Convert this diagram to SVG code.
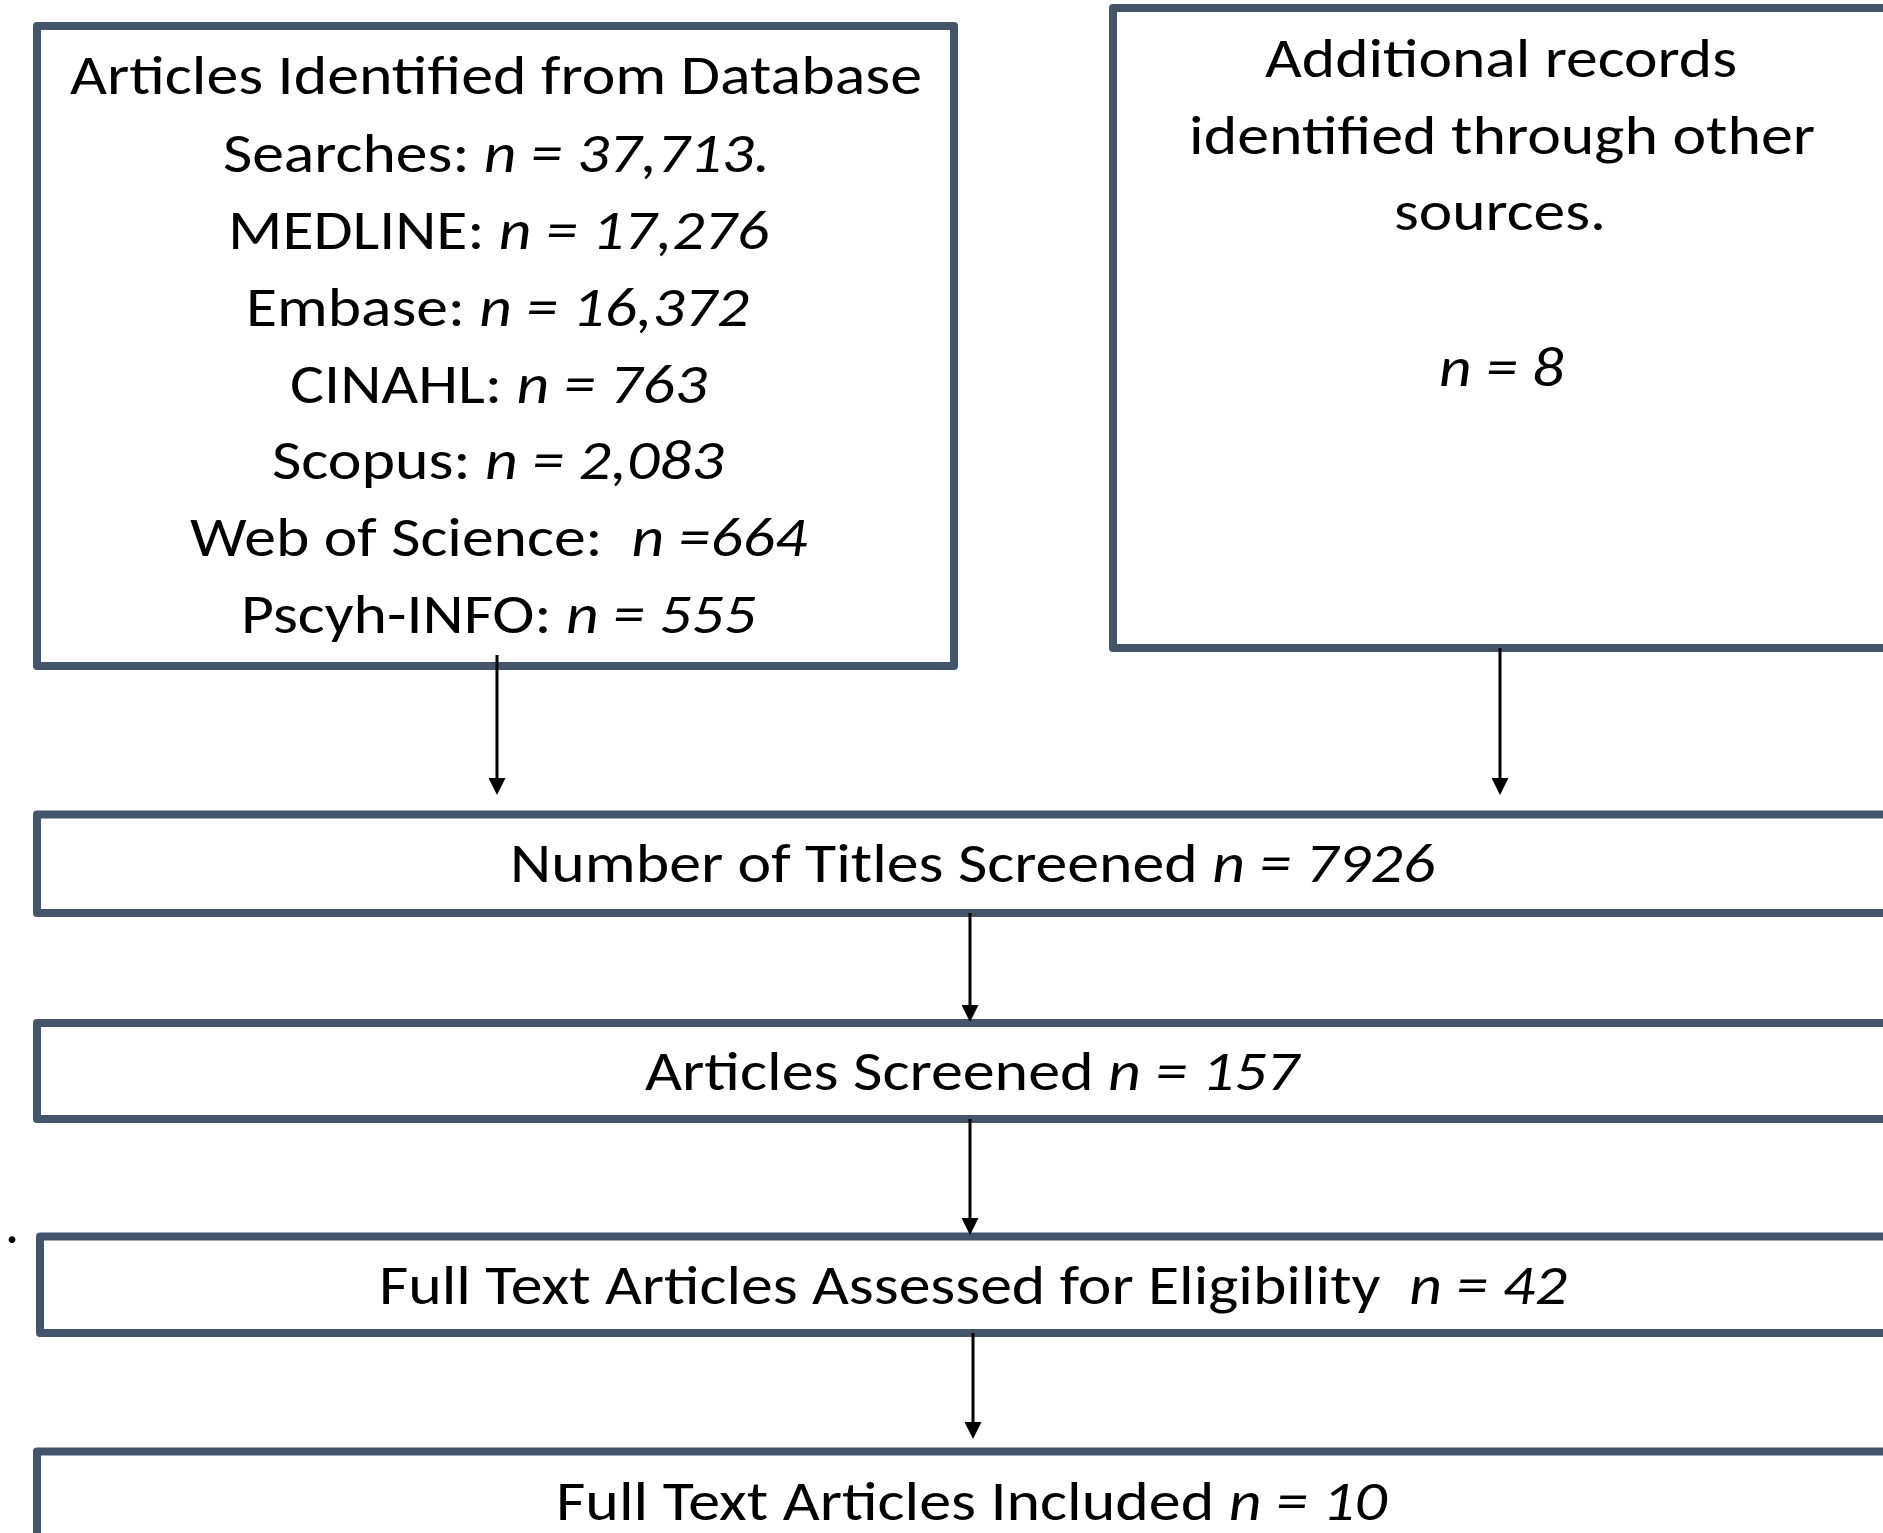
<svg xmlns="http://www.w3.org/2000/svg" width="1883" height="1533" viewBox="0 0 1883 1533">
<style>
.box{fill:#ffffff;stroke:#44546A;stroke-width:8;stroke-linejoin:round}
.t{font-family:Carlito,Calibri,Lato,"Open Sans",sans-serif;font-size:56px;fill:#000000;white-space:pre}
.i{font-style:italic}
.c{stroke:#000000;stroke-width:3;fill:none}
</style>
<defs>
<marker id="ah" markerUnits="userSpaceOnUse" markerWidth="17" markerHeight="17" refX="5" refY="8.5" orient="auto">
<path d="M0,0 L17,8.5 L0,17 z" fill="#000000"/>
</marker>
</defs>
<rect width="1883" height="1533" fill="#ffffff"/>
<g id="db">
<rect class="box" x="37" y="26" width="917" height="640"/>
<text class="t" x="70" y="94" textLength="852" lengthAdjust="spacingAndGlyphs">Articles Identified from Database</text>
<text class="t" x="223" y="172" textLength="547" lengthAdjust="spacingAndGlyphs">Searches: <tspan class="i">n = 37,713.</tspan></text>
<text class="t" x="228" y="249" textLength="541" lengthAdjust="spacingAndGlyphs">MEDLINE: <tspan class="i">n = 17,276</tspan></text>
<text class="t" x="246" y="326" textLength="503" lengthAdjust="spacingAndGlyphs">Embase: <tspan class="i">n = 16,372</tspan></text>
<text class="t" x="290" y="403" textLength="417" lengthAdjust="spacingAndGlyphs">CINAHL: <tspan class="i">n = 763</tspan></text>
<text class="t" x="272" y="479" textLength="452" lengthAdjust="spacingAndGlyphs">Scopus: <tspan class="i">n = 2,083</tspan></text>
<text class="t" x="190" y="556" textLength="617" lengthAdjust="spacingAndGlyphs">Web of Science:  <tspan class="i">n =664</tspan></text>
<text class="t" x="241" y="633" textLength="515" lengthAdjust="spacingAndGlyphs">Pscyh-INFO: <tspan class="i">n = 555</tspan></text>
</g>
<g id="other">
<rect class="box" x="1113" y="8" width="790" height="640"/>
<text class="t" x="1265" y="77" textLength="472" lengthAdjust="spacingAndGlyphs">Additional records</text>
<text class="t" x="1189" y="154" textLength="626" lengthAdjust="spacingAndGlyphs">identified through other</text>
<text class="t" x="1394" y="230" textLength="212" lengthAdjust="spacingAndGlyphs">sources.</text>
<text class="t i" x="1439" y="386" textLength="125" lengthAdjust="spacingAndGlyphs">n = 8</text>
</g>
<g id="titles">
<rect class="box" x="37" y="814.5" width="1900" height="98.5"/>
<text class="t" x="510" y="882" textLength="925" lengthAdjust="spacingAndGlyphs">Number of Titles Screened <tspan class="i">n = 7926</tspan></text>
</g>
<g id="screened">
<rect class="box" x="37" y="1023" width="1900" height="96"/>
<text class="t" x="645" y="1090" textLength="654" lengthAdjust="spacingAndGlyphs">Articles Screened <tspan class="i">n = 157</tspan></text>
</g>
<g id="assessed">
<rect class="box" x="40" y="1236.5" width="1900" height="96.5"/>
<text class="t" x="379" y="1304" textLength="1188" lengthAdjust="spacingAndGlyphs">Full Text Articles Assessed for Eligibility  <tspan class="i">n = 42</tspan></text>
</g>
<g id="included">
<rect class="box" x="37" y="1451.5" width="1900" height="200"/>
<text class="t" x="556" y="1520" textLength="831" lengthAdjust="spacingAndGlyphs">Full Text Articles Included <tspan class="i">n = 10</tspan></text>
</g>
<text class="t" x="5" y="1243">.</text>
<g id="connectors">
<line class="c" x1="497" y1="655" x2="497" y2="783" marker-end="url(#ah)"/>
<line class="c" x1="1500" y1="648" x2="1500" y2="783" marker-end="url(#ah)"/>
<line class="c" x1="970" y1="913" x2="970" y2="1010" marker-end="url(#ah)"/>
<line class="c" x1="970" y1="1119" x2="970" y2="1223" marker-end="url(#ah)"/>
<line class="c" x1="973" y1="1333" x2="973" y2="1427" marker-end="url(#ah)"/>
</g>
</svg>
